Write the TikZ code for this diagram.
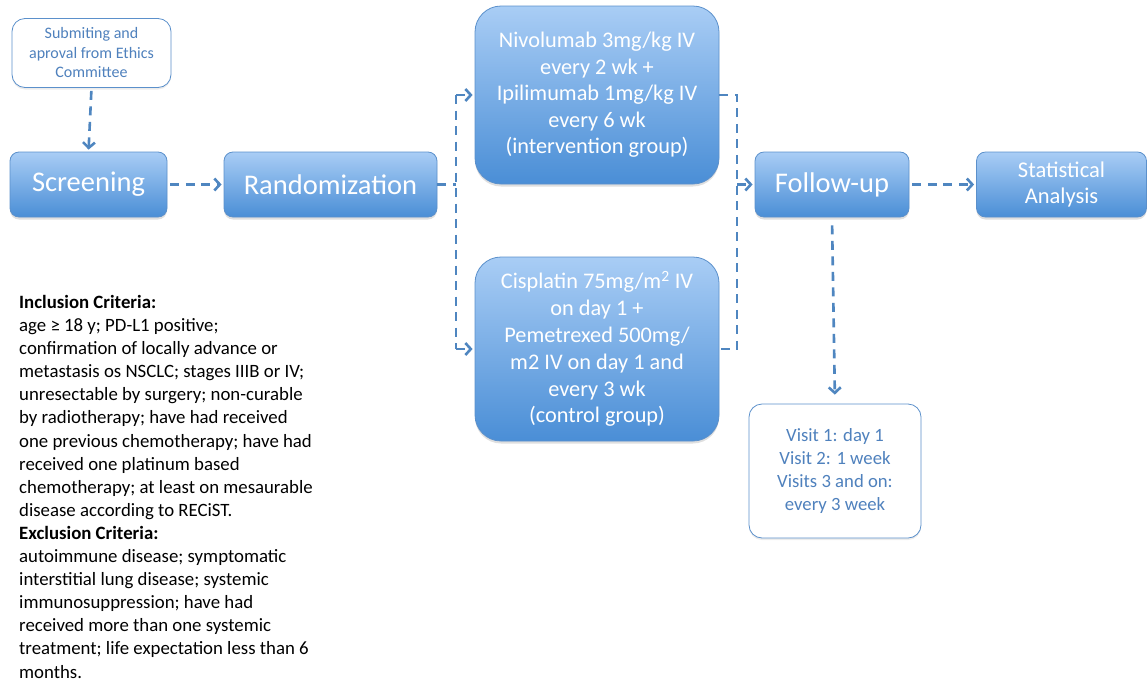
\documentclass[tikz,border=0pt]{standalone}
\usepackage{fontspec}
\setmainfont{Carlito}
\usepackage{xcolor}
\usetikzlibrary{arrows.meta,shadows}

\definecolor{boxtop}{HTML}{A9CDF5}
\definecolor{boxbot}{HTML}{4A8ED6}
\definecolor{boxline}{HTML}{5B90CB}
\definecolor{flowblue}{HTML}{4F86C0}
\definecolor{notetext}{HTML}{4F81BD}

\begin{document}
\begin{tikzpicture}[x=1pt, y=-1pt,
  stepbox/.style={draw=boxline, line width=0.8pt, rounded corners=9pt, top color=boxtop, bottom color=boxbot,
    text=white, align=center, inner sep=0pt,
    drop shadow={opacity=0.25, shadow xshift=0pt, shadow yshift=-2.5pt}},
  armbox/.style={stepbox, rounded corners=26pt},
  notebox/.style={draw=boxline, line width=0.8pt, rounded corners=13pt, fill=white, text=notetext,
    align=center, inner sep=0pt,
    drop shadow={opacity=0.15, shadow xshift=0pt, shadow yshift=-2pt}},
  flow/.style={draw=flowblue, line width=2.6pt, dash pattern=on 9pt off 6.5pt},
  flowarrow/.style={flow, -{Straight Barb[length=5.5pt, width=12pt, line width=2.6pt]}}]
  \useasboundingbox (0,0) rectangle (1147,683);

  % boxes
  \node[notebox, minimum width=159pt, minimum height=69pt, font=\fontsize{16}{19.5}\selectfont] (ethics) at (91.5,53)
    {Submiting and\\aproval from Ethics\\Committee};
  \node[stepbox, minimum width=157pt, minimum height=65pt, font=\fontsize{28.5}{32}\selectfont] (screen) at (88.5,184.5) {Screening};
  \node[stepbox, minimum width=213pt, minimum height=65pt, font=\fontsize{28.5}{32}\selectfont] (rand) at (330.5,184.5) {Randomization};
  \node[armbox, minimum width=244pt, minimum height=178pt, font=\fontsize{22.3}{26.5}\selectfont] (niv) at (597,95)
    {Nivolumab 3mg/kg IV\\every 2 wk +\\Ipilimumab 1mg/kg IV\\every 6 wk\\(intervention group)};
  \node[armbox, minimum width=244pt, minimum height=184pt, font=\fontsize{22.3}{26.8}\selectfont] (cis) at (597,349)
    {Cisplatin 75mg/m\textsuperscript{2} IV\\on day 1 +\\Pemetrexed 500mg/\\m2 IV on day 1 and\\every 3 wk\\(control group)};
  \node[stepbox, minimum width=154pt, minimum height=65pt, font=\fontsize{28.5}{32}\selectfont] (follow) at (832,184.5) {Follow-up};
  \node[stepbox, minimum width=170pt, minimum height=65pt, font=\fontsize{22.5}{26}\selectfont] (stats) at (1061.5,184.5)
    {Statistical\\Analysis};
  \node[notebox, minimum width=172pt, minimum height=134pt, font=\fontsize{18.7}{23}\selectfont] (visits) at (835,471)
    {Visit 1: day 1\\Visit 2: 1 week\\Visits 3 and on:\\every 3 week};

  % criteria
  \node[anchor=north west, align=left, inner sep=0pt, font=\fontsize{18.8}{23.1}\selectfont] (criteria) at (19,295)
    {\textbf{Inclusion Criteria:}\\
     age ≥ 18 y; PD-L1 positive;\\
     confirmation of locally advance or\\
     metastasis os NSCLC; stages IIIB or IV;\\
     unresectable by surgery; non-curable\\
     by radiotherapy; have had received\\
     one previous chemotherapy; have had\\
     received one platinum based\\
     chemotherapy; at least on mesaurable\\
     disease according to RECiST.\\
     \textbf{Exclusion Criteria:}\\
     autoimmune disease; symptomatic\\
     interstitial lung disease; systemic\\
     immunosuppression; have had\\
     received more than one systemic\\
     treatment; life expectation less than 6\\
     months.};

  % connectors
  \coordinate (forkL) at (456,184.5);
  \coordinate (forkR) at (737,184.5);
  \draw[flowarrow, shorten <=3pt, shorten >=2pt] (ethics.south) -- (screen.north);
  \draw[flowarrow, shorten <=3pt, shorten >=2pt] (screen.east) -- (rand.west);
  \draw[flow] (rand.east) -- (forkL);
  \draw[flow] (forkL |- niv.west) -- (forkL |- cis.west);
  \draw[flowarrow, shorten >=2pt] (forkL |- niv.west) -- (niv.west);
  \draw[flowarrow, shorten >=2pt] (forkL |- cis.west) -- (cis.west);
  \draw[flow] (niv.east) -- (forkR |- niv.east) -- (forkR |- cis.east) -- (cis.east);
  \draw[flowarrow, shorten >=2pt] (forkR) -- (follow.west);
  \draw[flowarrow, shorten <=3pt, shorten >=2pt] (follow.east) -- (stats.west);
  \draw[flowarrow, shorten <=8pt, shorten >=9pt] (follow.south) -- (visits.north);
\end{tikzpicture}
\end{document}
